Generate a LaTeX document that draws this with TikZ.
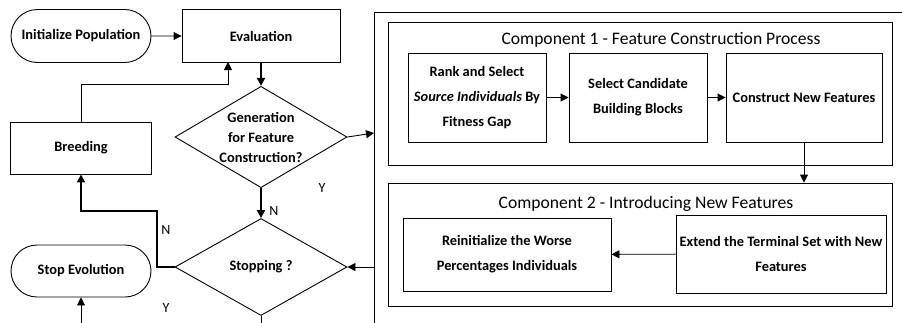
\documentclass[tikz,border=0pt]{standalone}
\usepackage{fontspec}
\setmainfont{Carlito}
\usepackage{tikz}
\usetikzlibrary{arrows.meta}
\usetikzlibrary{shapes.misc}
\usetikzlibrary{shapes.geometric}

\newcommand{\boxfont}{\fontsize{14.4}{25}\selectfont\bfseries}
\newcommand{\askfont}{\fontsize{14.4}{20}\selectfont\bfseries}
\newcommand{\titlefont}{\fontsize{17.6}{20}\selectfont}
\newcommand{\yesnofont}{\fontsize{14}{16}\selectfont}

\tikzset{
	proc/.style={draw, rectangle, inner sep=0pt, align=center, font=\boxfont, line width=0.9pt},
	term/.style={draw, rounded rectangle, inner sep=0pt, align=center, font=\boxfont, line width=0.9pt},
	decide/.style={draw, diamond, inner sep=-8pt, align=center, font=\askfont, line width=0.9pt,
		minimum width=172pt, minimum height=97pt},
	group/.style={draw, rectangle, inner sep=0pt, line width=0.9pt},
	flow/.style={->, line width=0.9pt},
	mainflow/.style={->, line width=2pt},
	yesno/.style={font=\yesnofont, inner sep=0pt},
	>={Triangle[length=8pt,width=8pt]}
}

\begin{document}
\begin{tikzpicture}[x=1pt,y=-1pt]
	\useasboundingbox (0,0) rectangle (902,322);
	% left flow chart
	\node[term, minimum width=140pt, minimum height=53pt] (init) at (81,36) {Initialize Population};
	\node[proc, minimum width=158pt, minimum height=53pt] (eval) at (261,36) {Evaluation};
	\node[decide] (gen) at (261,137) {Generation\\for Feature\\Construction?};
	\node[proc, minimum width=141pt, minimum height=52pt] (breed) at (81,148) {Breeding};
	\node[decide] (stop) at (261,267) {Stopping ?};
	\node[term, minimum width=140pt, minimum height=52pt] (stopev) at (81,271) {Stop Evolution};

	\coordinate (genout) at (374,133);
	\coordinate (stopin) at (374,267);
	\coordinate (stopdown) at (261,323);
	\coordinate (stopyes) at (81,323);

	\draw[flow] (init) -- (eval);
	\draw[mainflow] (eval) -- (gen);
	\draw[mainflow] (gen) -- (stop);
	\draw[flow] (breed.north) |- (228,84) -- (228,62);
	\draw[mainflow] (stop.west) -- (157,267) -- (157,211) -| (breed.south);
	\draw[flow] (gen.east) -- (genout);
	\draw[flow] (stopin) -- (stop.east);
	\draw[line width=0.9pt] (stop.south) -- (stopdown);
	\draw[flow] (stopyes) -- (stopev.south);

	\node[yesno] (ygen) at (322,188) {Y};
	\node[yesno] (ngen) at (274,211) {N};
	\node[yesno] (nstop) at (166,230) {N};
	\node[yesno] (ystop) at (166,308) {Y};

	% right part
	\draw[line width=0.9pt] (374,323) -- (374,12) -- (905,12);
	\node[group, minimum width=504pt, minimum height=143pt] (comp1) at (640,93.5) {};
	\node[font=\titlefont, inner sep=0pt] (title1) at (661,40) {Component 1 - Feature Construction Process};
	\node[proc, minimum width=138pt, minimum height=89pt] (rank) at (477,97.5) {Rank and Select\\\textit{Source Individuals} By\\Fitness Gap};
	\node[proc, minimum width=138pt, minimum height=89pt] (cand) at (638,97.5) {Select Candidate\\Building Blocks};
	\node[proc, minimum width=156pt, minimum height=89pt] (cons) at (804,97.5) {Construct New Features};
	\draw[flow] (rank) -- (cand);
	\draw[flow] (cand) -- (cons);

	\node[group, minimum width=504pt, minimum height=123pt] (comp2) at (640,244.5) {};
	\node[font=\titlefont, inner sep=0pt] (title2) at (646,204) {Component 2 - Introducing New Features};
	\node[proc, minimum width=208pt, minimum height=73pt] (reinit) at (507,254.5) {Reinitialize the Worse\\Percentages Individuals};
	\node[proc, minimum width=210pt, minimum height=78pt] (extend) at (781,254) {Extend the Terminal Set with New\\Features};
	\draw[flow] (cons.south) -- (cons.south |- comp2.north);
	\draw[flow] (extend) -- (reinit);
\end{tikzpicture}
\end{document}
